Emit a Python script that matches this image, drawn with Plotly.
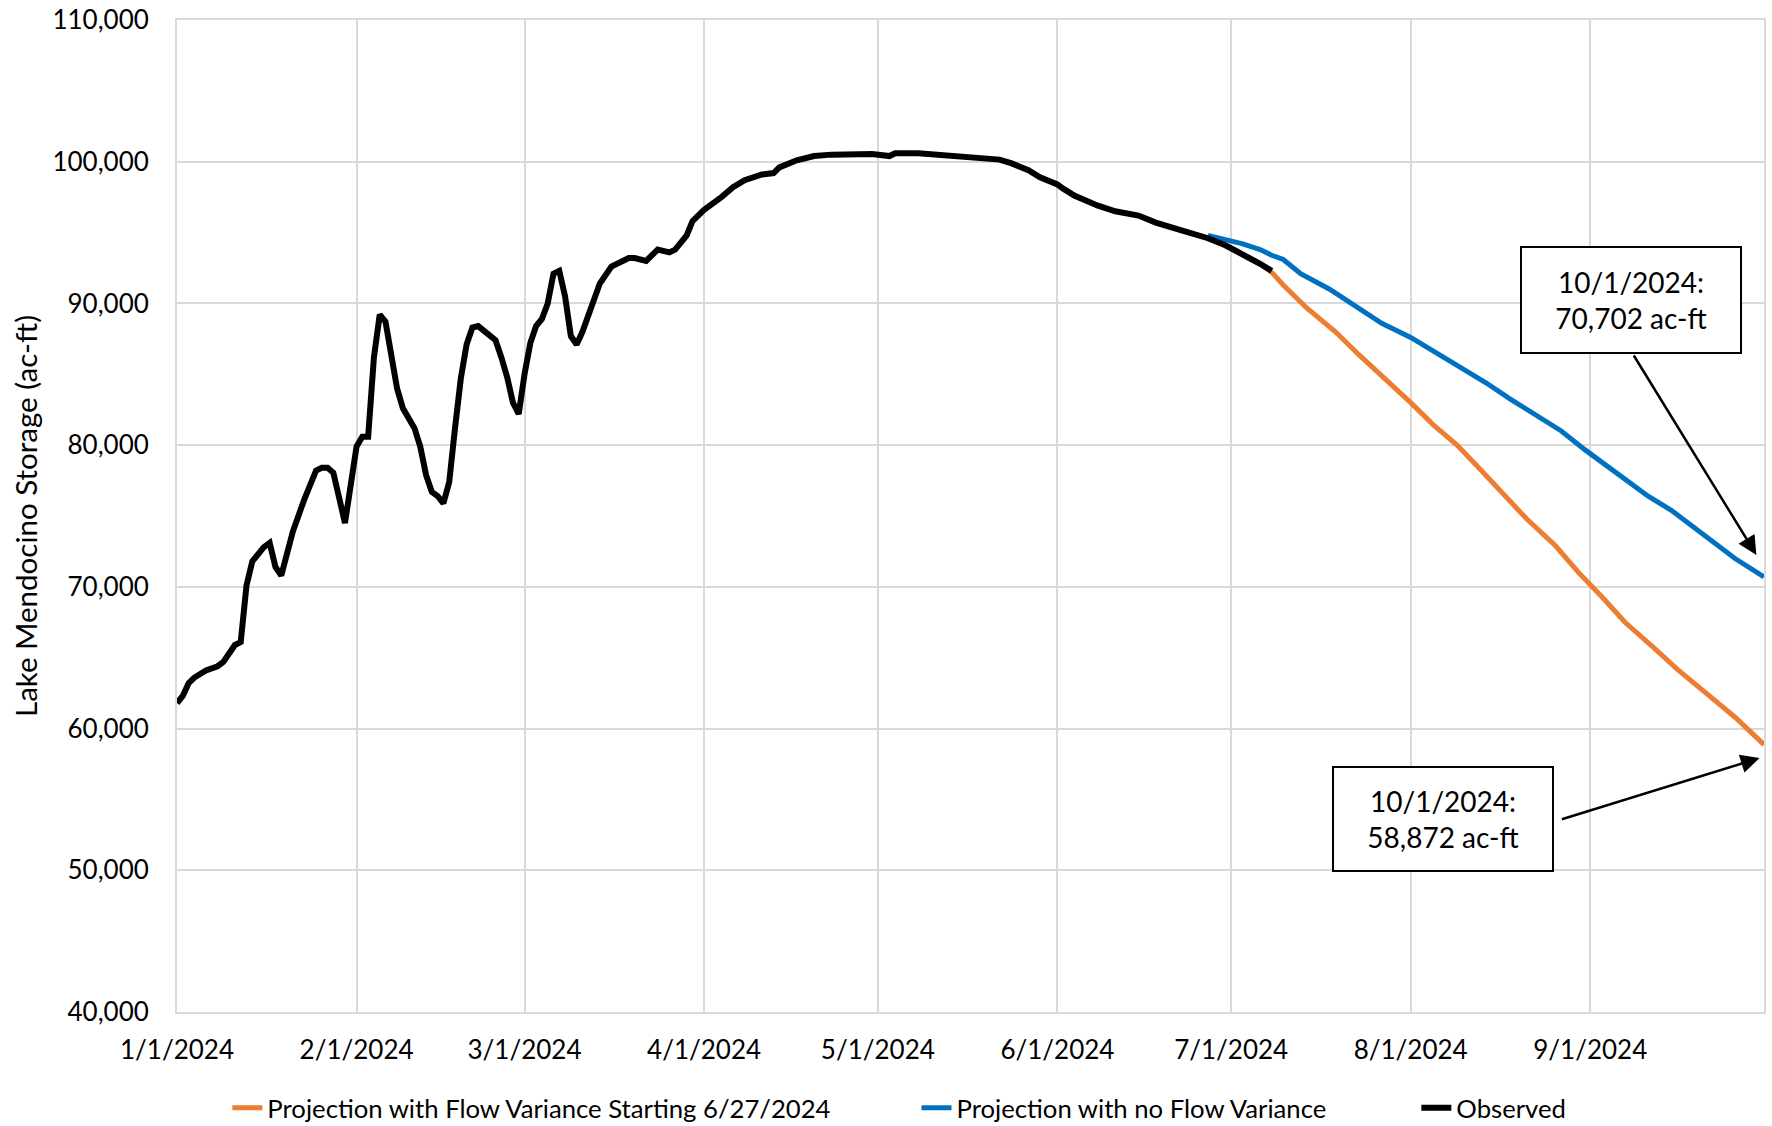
import plotly.graph_objects as go

# ---------------- data ----------------
obs_dates = [
    "2024-01-01", "2024-01-02", "2024-01-03", "2024-01-04", "2024-01-06", "2024-01-08",
    "2024-01-09", "2024-01-10", "2024-01-11", "2024-01-12", "2024-01-13", "2024-01-14",
    "2024-01-15", "2024-01-16", "2024-01-17", "2024-01-18", "2024-01-19", "2024-01-21",
    "2024-01-23", "2024-01-25", "2024-01-26", "2024-01-27", "2024-01-28", "2024-01-29",
    "2024-01-30", "2024-01-31", "2024-02-01", "2024-02-02", "2024-02-03", "2024-02-04",
    "2024-02-05", "2024-02-06", "2024-02-07", "2024-02-08", "2024-02-09", "2024-02-11",
    "2024-02-12", "2024-02-13", "2024-02-14", "2024-02-15", "2024-02-16", "2024-02-17",
    "2024-02-18", "2024-02-19", "2024-02-20", "2024-02-21", "2024-02-22", "2024-02-23",
    "2024-02-24", "2024-02-25", "2024-02-26", "2024-02-27", "2024-02-28", "2024-02-29",
    "2024-03-01", "2024-03-02", "2024-03-03", "2024-03-04", "2024-03-05", "2024-03-06",
    "2024-03-07", "2024-03-08", "2024-03-09", "2024-03-10", "2024-03-11", "2024-03-12",
    "2024-03-13", "2024-03-14", "2024-03-16", "2024-03-19", "2024-03-20", "2024-03-22",
    "2024-03-24", "2024-03-26", "2024-03-27", "2024-03-29", "2024-03-30", "2024-04-01",
    "2024-04-04", "2024-04-06", "2024-04-08", "2024-04-11", "2024-04-13", "2024-04-14",
    "2024-04-17", "2024-04-20", "2024-04-23", "2024-04-27", "2024-04-30", "2024-05-03",
    "2024-05-04", "2024-05-08", "2024-05-11", "2024-05-15", "2024-05-18", "2024-05-22",
    "2024-05-24", "2024-05-27", "2024-05-29", "2024-06-01", "2024-06-02", "2024-06-04",
    "2024-06-08", "2024-06-11", "2024-06-15", "2024-06-18", "2024-06-22", "2024-06-24",
    "2024-06-27", "2024-06-30", "2024-07-02", "2024-07-04", "2024-07-06", "2024-07-08",
]
obs_values = [
    61800, 62300, 63200, 63600, 64100, 64400,
    64700, 65400, 65900, 66100, 70100, 71800,
    72300, 72800, 73100, 71400, 70800, 73900,
    76200, 78200, 78400, 78400, 78050, 76200,
    74500, 77200, 79900, 80600, 80600, 86200,
    89200, 88700, 86500, 84000, 82600, 81200,
    79900, 77900, 76700, 76400, 75900, 77400,
    81200, 84700, 87100, 88300, 88400, 88100,
    87800, 87400, 86200, 84800, 83000, 82200,
    85000, 87200, 88400, 88900, 90000, 92100,
    92300, 90500, 87700, 87100, 88000, 89200,
    90400, 91400, 92600, 93200, 93200, 93000,
    93800, 93600, 93800, 94800, 95800, 96600,
    97500, 98200, 98700, 99100, 99200, 99600,
    100100, 100400, 100500, 100550, 100550, 100400,
    100600, 100600, 100500, 100300, 100300, 100150,
    99900, 99400, 98900, 98400, 98100, 97600,
    96900, 96500, 96200, 95700, 95200, 95000,
    94600, 94100, 93700, 93200, 92800, 92300,
]

novar_dates = [
    "2024-06-27", "2024-06-30", "2024-07-03", "2024-07-06", "2024-07-08", "2024-07-10",
    "2024-07-13", "2024-07-18", "2024-07-23", "2024-07-27", "2024-08-01", "2024-08-05",
    "2024-08-09", "2024-08-14", "2024-08-18", "2024-08-22", "2024-08-27", "2024-08-31",
    "2024-09-04", "2024-09-08", "2024-09-11", "2024-09-15", "2024-09-18", "2024-09-22",
    "2024-09-26", "2024-10-01",
]
novar_values = [
    94800, 94500, 94200, 93800, 93400, 93100,
    92100, 91000, 89700, 88600, 87600, 86600,
    85700, 84400, 83300, 82300, 81000, 79700,
    78500, 77400, 76400, 75400, 74500, 73200,
    72000, 70702,
]

var_dates = [
    "2024-06-27", "2024-06-30", "2024-07-02", "2024-07-04", "2024-07-06", "2024-07-08",
    "2024-07-10", "2024-07-14", "2024-07-19", "2024-07-23", "2024-07-27", "2024-08-01",
    "2024-08-05", "2024-08-09", "2024-08-13", "2024-08-17", "2024-08-21", "2024-08-26",
    "2024-08-30", "2024-09-03", "2024-09-07", "2024-09-12", "2024-09-16", "2024-09-21",
    "2024-09-26", "2024-10-01",
]
var_values = [
    94700, 94100, 93700, 93200, 92800, 92200,
    91300, 89700, 88000, 86400, 84900, 83000,
    81400, 80000, 78300, 76500, 74800, 72900,
    71000, 69300, 67500, 65700, 64200, 62500,
    60800, 58872,
]

tick_dates = ["2024-01-01", "2024-02-01", "2024-03-01", "2024-04-01", "2024-05-01",
              "2024-06-01", "2024-07-01", "2024-08-01", "2024-09-01"]
tick_labels = ["1/1/2024", "2/1/2024", "3/1/2024", "4/1/2024", "5/1/2024",
               "6/1/2024", "7/1/2024", "8/1/2024", "9/1/2024"]

series_names = ["Projection with Flow Variance Starting 6/27/2024",
                "Projection with no Flow Variance",
                "Observed"]
y_title = "Lake Mendocino Storage (ac-ft)"
callout_low = "10/1/2024:<br>58,872 ac-ft"
callout_high = "10/1/2024:<br>70,702 ac-ft"

# ---------------- figure ----------------
FONT = "Lato, Carlito, Calibri, sans-serif"
GRID = "#d9d9d9"

fig = go.Figure()
fig.add_trace(go.Scatter(x=var_dates, y=var_values, mode="lines", name=series_names[0],
                         line=dict(color="#ED7D31", width=5), legend="legend"))
fig.add_trace(go.Scatter(x=novar_dates, y=novar_values, mode="lines", name=series_names[1],
                         line=dict(color="#0070C0", width=5), legend="legend2"))
fig.add_trace(go.Scatter(x=obs_dates, y=obs_values, mode="lines", name=series_names[2],
                         line=dict(color="#000000", width=6), legend="legend3"))

leg_common = dict(orientation="h", xref="container", yref="container",
                  yanchor="middle", xanchor="left", y=0.0160,
                  font=dict(family=FONT, size=25.7, color="#000000"),
                  bgcolor="rgba(0,0,0,0)", borderwidth=0)

fig.update_layout(
    width=1772, height=1126,
    margin=dict(l=177, r=8, t=20, b=114, autoexpand=False),
    paper_bgcolor="white", plot_bgcolor="white",
    font=dict(family=FONT, size=26, color="#000000"),
    showlegend=True,
    legend=dict(x=0.1283, **leg_common),
    legend2=dict(x=0.5172, **leg_common),
    legend3=dict(x=0.7993, **leg_common),
    xaxis=dict(
        type="date", range=["2024-01-01", "2024-10-01"], automargin=False,
        tickmode="array", tickvals=tick_dates, ticktext=tick_labels,
        showgrid=True, gridcolor=GRID, gridwidth=2,
        showline=True, linecolor=GRID, linewidth=2, mirror=True,
        ticks="", ticklabelstandoff=14, zeroline=False,
        tickfont=dict(family=FONT, size=26, color="#000000"),
    ),
    yaxis=dict(
        range=[40000, 110000], dtick=10000, tick0=40000, tickformat=",d",
        automargin=False, ticklabeloverflow="allow",
        showgrid=True, gridcolor=GRID, gridwidth=2,
        showline=True, linecolor=GRID, linewidth=2, mirror=True,
        ticks="", ticklabelstandoff=21, zeroline=False,
        tickfont=dict(family=FONT, size=26, color="#000000"),
        title=dict(text=y_title, standoff=6,
                   font=dict(family=FONT, size=29.5, color="#000000")),
    ),
)

# callout boxes
for txt, bx, by, w, h in [(callout_high, 0.9162, 0.7177, 218, 104),
                          (callout_low, 0.7979, 0.1941, 218, 102)]:
    fig.add_annotation(text=txt, xref="paper", yref="paper", x=bx, y=by,
                       xanchor="center", yanchor="middle", showarrow=False,
                       width=w, height=h, align="center", valign="middle",
                       bgcolor="white", bordercolor="#000000", borderwidth=2, borderpad=0,
                       font=dict(family=FONT, size=28, color="#000000"))

# arrows
for hx, hy, ax, ay in [(0.9952, 0.4608, -123.5, -200.9),
                       (0.9972, 0.2560, -199.2, 61.6)]:
    fig.add_annotation(text="", xref="paper", yref="paper", x=hx, y=hy,
                       ax=ax, ay=ay, axref="pixel", ayref="pixel",
                       showarrow=True, arrowhead=2, arrowsize=1.5, arrowwidth=2.5,
                       arrowcolor="#000000", standoff=0)

# remove the page's default 8px body margin so the figure fills the window
fig.write_html("out.html", config={"displayModeBar": False},
               post_script="document.body.style.margin='0';")
